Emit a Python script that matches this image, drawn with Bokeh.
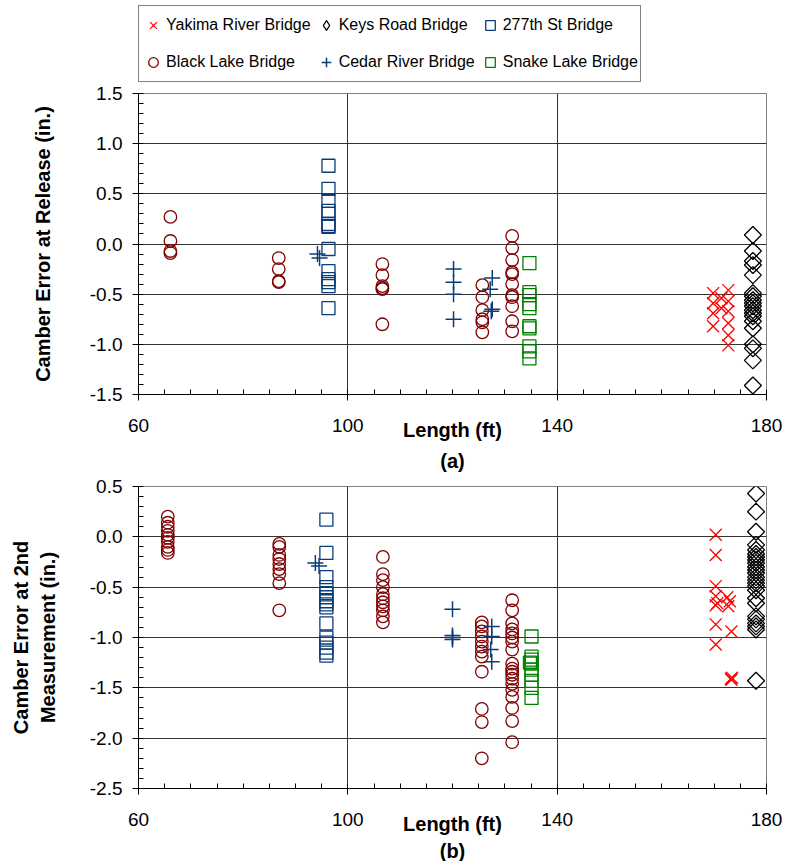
import math
from bokeh.plotting import figure
from bokeh.models import FixedTicker, Legend, LegendItem, Title, NumeralTickFormatter
from bokeh.layouts import column
from bokeh.embed import file_html
from bokeh.resources import INLINE

FONT = "Liberation Sans"

# ---------------- data: (a) camber error at release ----------------
black_a_len = [66.1] * 4 + [86.8] * 4 + [106.6] * 6 + [125.7] * 6 + [131.4] * 11
black_a_err = [0.27, 0.03, -0.07, -0.09,
               -0.14, -0.25, -0.37, -0.38,
               -0.20, -0.31, -0.42, -0.44, -0.45, -0.80,
               -0.41, -0.53, -0.66, -0.75, -0.78, -0.88,
               0.08, -0.04, -0.16, -0.28, -0.30, -0.40, -0.51, -0.53, -0.62, -0.77, -0.87]

st277_a_len = [96.3] * 14
st277_a_err = [0.78, 0.55, 0.43, 0.33, 0.30, 0.20, 0.18, 0.17, -0.05, -0.27, -0.35, -0.38, -0.42, -0.64]

cedar_a_len = [94.2, 94.6, 120.2, 120.2, 120.2, 120.2, 127.6, 127.2, 127.6, 127.4]
cedar_a_err = [-0.10, -0.14, -0.25, -0.38, -0.50, -0.75, -0.34, -0.45, -0.65, -0.67]

snake_a_len = [134.7] * 10
snake_a_err = [-0.19, -0.48, -0.51, -0.60, -0.64, -0.82, -0.84, -1.02, -1.07, -1.14]

yakima_a_len = [169.8, 169.8, 169.8, 169.8, 171.4, 171.4, 172.7, 172.7, 172.7, 172.7, 172.7, 172.7]
yakima_a_err = [-0.49, -0.59, -0.69, -0.82, -0.54, -0.64, -0.46, -0.57, -0.67, -0.79, -0.91, -1.01]

keys_a_len = [177.4] * 19
keys_a_err = [0.09, -0.07, -0.17, -0.21, -0.31, -0.49, -0.52, -0.56, -0.59, -0.62,
              -0.66, -0.69, -0.72, -0.77, -0.84, -1.00, -1.04, -1.16, -1.41]

# ---------------- data: (b) camber error at 2nd measurement ----------------
black_b_len = [65.6] * 10 + [86.9] * 9 + [106.7] * 11 + [125.6] * 12 + [131.4] * 19
black_b_err = [0.20, 0.14, 0.10, 0.06, 0.02, -0.01, -0.05, -0.10, -0.13, -0.16,
               -0.07, -0.10, -0.18, -0.22, -0.27, -0.32, -0.37, -0.46, -0.73,
               -0.20, -0.37, -0.43, -0.50, -0.57, -0.61, -0.65, -0.69, -0.73, -0.79, -0.85,
               -0.85, -0.89, -0.94, -0.99, -1.04, -1.09, -1.14, -1.19, -1.34, -1.71, -1.84, -2.20,
               -0.63, -0.73, -0.86, -0.92, -0.96, -1.00, -1.04, -1.12, -1.26, -1.31, -1.34,
               -1.37, -1.41, -1.46, -1.52, -1.59, -1.70, -1.83, -2.04]

st277_b_len = [95.9] * 15
st277_b_err = [0.17, -0.16, -0.40, -0.50, -0.56, -0.60, -0.64, -0.67, -0.70, -0.86,
               -1.00, -1.05, -1.10, -1.15, -1.18]

cedar_b_len = [93.8, 94.5, 120.0, 120.0, 120.0, 120.0, 127.5, 127.5, 127.3, 127.5]
cedar_b_err = [-0.26, -0.29, -0.72, -0.98, -1.00, -1.02, -0.89, -0.99, -1.12, -1.24]

snake_b_len = [135.1] * 9 + [134.8]
snake_b_err = [-0.99, -1.19, -1.22, -1.26, -1.32, -1.37, -1.43, -1.50, -1.60, -1.25]

yakima_b_len = [170.3] * 7 + [170.6, 172.5, 173.0, 172.7, 173.3, 173.2, 173.3, 173.4]
yakima_b_err = [0.02, -0.18, -0.49, -0.59, -0.68, -0.87, -1.07, -0.66,
                -0.60, -0.64, -0.69, -0.94, -1.41, -1.42, -1.40]

keys_b_len = [178.0] * 25
keys_b_err = [0.43, 0.25, 0.05, -0.08, -0.13, -0.17, -0.20, -0.23, -0.26, -0.30,
              -0.33, -0.36, -0.40, -0.43, -0.46, -0.49, -0.53, -0.61, -0.66, -0.79,
              -0.82, -0.86, -0.89, -0.92, -1.43]

# ---------------- axes / legend text ----------------
x_ticks = [60, 100, 140, 180]
x_minor = list(range(60, 181, 5))
y_ticks_a = [-1.5, -1.0, -0.5, 0.0, 0.5, 1.0, 1.5]
y_ticks_b = [-2.5, -2.0, -1.5, -1.0, -0.5, 0.0, 0.5]
series_names = ["Yakima River Bridge", "Keys Road Bridge", "277th St Bridge",
                "Black Lake Bridge", "Cedar River Bridge", "Snake Lake Bridge"]

MAROON = "#800000"
NAVY = "#0a3d78"
GREEN = "#008000"
RED = "#ff0000"

STYLES = {
    "Yakima River Bridge": dict(marker="x", size=17, line_color=RED, line_width=1.3),
    "Keys Road Bridge": dict(marker="square", angle=math.pi / 4, size=12, fill_color=None,
                             line_color="black", line_width=1.3),
    "277th St Bridge": dict(marker="square", size=13, fill_color=None, line_color=NAVY, line_width=1.3),
    "Black Lake Bridge": dict(marker="circle", size=12.5, fill_color=None, line_color=MAROON, line_width=1.3),
    "Cedar River Bridge": dict(marker="cross", size=16, line_color=NAVY, line_width=1.5),
    "Snake Lake Bridge": dict(marker="square", size=13, fill_color=None, line_color=GREEN, line_width=1.3),
}

LEFT = 138
FRAME_W = 628


def make_fig(y_ticks, ylabel, fh, mb_top, title_text, title_standoff, ylabel_standoff):
    p = figure(frame_width=FRAME_W, frame_height=fh,
               x_range=(60, 180), y_range=(y_ticks[0], y_ticks[-1]),
               output_backend="svg", toolbar_location=None,
               min_border_left=LEFT, min_border_right=18,
               min_border_top=mb_top, min_border_bottom=20,
               background_fill_color="white", border_fill_color="white")
    p.outline_line_color = "#808080"
    p.outline_line_width = 1
    p.xaxis.ticker = FixedTicker(ticks=x_ticks, minor_ticks=x_minor)
    y_minor = [round(y_ticks[0] + 0.1 * i, 2) for i in range(int(round((y_ticks[-1] - y_ticks[0]) / 0.1)) + 1)]
    p.yaxis.ticker = FixedTicker(ticks=y_ticks, minor_ticks=y_minor)
    p.yaxis.formatter = NumeralTickFormatter(format="0.0")
    for ax in (p.xaxis, p.yaxis):
        ax.axis_line_color = "black"
        ax.major_tick_line_color = "black"
        ax.minor_tick_line_color = "black"
        ax.major_tick_in = 0
        ax.major_tick_out = 6
        ax.minor_tick_in = 5
        ax.minor_tick_out = 0
        ax.major_label_text_font = FONT
        ax.major_label_text_font_size = "19px"
        ax.major_label_text_color = "black"
        ax.axis_label_text_font = FONT
        ax.axis_label_text_font_size = "20px"
        ax.axis_label_text_font_style = "bold"
        ax.axis_label_text_color = "black"
    p.xaxis.major_label_standoff = 18
    p.yaxis.major_label_standoff = 10
    p.xaxis.axis_label = "Length (ft)"
    p.xaxis.axis_label_standoff = -16
    p.yaxis.axis_label = ylabel
    p.yaxis.axis_label_standoff = ylabel_standoff
    p.xgrid.ticker = FixedTicker(ticks=x_ticks)
    p.ygrid.ticker = FixedTicker(ticks=y_ticks)
    for g in (p.xgrid, p.ygrid):
        g.grid_line_color = "#333333"
        g.grid_line_width = 1
    p.add_layout(Title(text=title_text, align="center", text_font=FONT, text_font_size="20px",
                       text_font_style="bold", text_color="black", standoff=title_standoff), "below")
    return p


def add_series(p, data):
    rs = []
    for name in series_names:
        xs, ys = data[name]
        rs.append(p.scatter(xs, ys, **STYLES[name]))
    return rs


data_a = {
    "Yakima River Bridge": (yakima_a_len, yakima_a_err),
    "Keys Road Bridge": (keys_a_len, keys_a_err),
    "277th St Bridge": (st277_a_len, st277_a_err),
    "Black Lake Bridge": (black_a_len, black_a_err),
    "Cedar River Bridge": (cedar_a_len, cedar_a_err),
    "Snake Lake Bridge": (snake_a_len, snake_a_err),
}
data_b = {
    "Yakima River Bridge": (yakima_b_len, yakima_b_err),
    "Keys Road Bridge": (keys_b_len, keys_b_err),
    "277th St Bridge": (st277_b_len, st277_b_err),
    "Black Lake Bridge": (black_b_len, black_b_err),
    "Cedar River Bridge": (cedar_b_len, cedar_b_err),
    "Snake Lake Bridge": (snake_b_len, snake_b_err),
}

# legend strip on top: its own small figure; the series are added hidden so
# that only their legend glyphs show
pl = figure(frame_width=FRAME_W, height=83, output_backend="svg", toolbar_location=None,
            x_axis_location=None, y_axis_location=None,
            min_border_left=LEFT, min_border_right=18, min_border_top=0, min_border_bottom=0,
            outline_line_color=None, background_fill_color="white", border_fill_color="white")
pl.xgrid.visible = False
pl.ygrid.visible = False
leg_items = []
for name in series_names:
    st = dict(STYLES[name])
    if name == "Keys Road Bridge":
        st = dict(marker="diamond", size=12, fill_color=None, line_color="black", line_width=1.3)
    st.pop("angle", None)
    xs, ys = data_a[name]
    r = pl.scatter(xs, ys, visible=False, **st)
    leg_items.append(LegendItem(label=name, renderers=[r]))
legend = Legend(items=leg_items, orientation="horizontal", ncols=3, location=(0, 1),
                margin=0, padding=2, spacing=3,
                glyph_width=24, glyph_height=34, label_height=34, label_standoff=1,
                label_text_font=FONT, label_text_font_size="16px", label_text_color="black",
                border_line_color="black", border_line_width=1,
                inactive_fill_alpha=0.0,
                background_fill_color="white", background_fill_alpha=1.0)
pl.add_layout(legend, "center")

p1 = make_fig(y_ticks_a, "Camber Error at Release (in.)", 301, 10, "(a)", 8, 33)
add_series(p1, data_a)

p2 = make_fig(y_ticks_b, "Camber Error at 2nd\nMeasurement (in.)", 302, 11, "(b)", 0, 28)
add_series(p2, data_b)

layout = column(pl, p1, p2, spacing=0)
open("out.html", "w").write(file_html(layout, INLINE))
